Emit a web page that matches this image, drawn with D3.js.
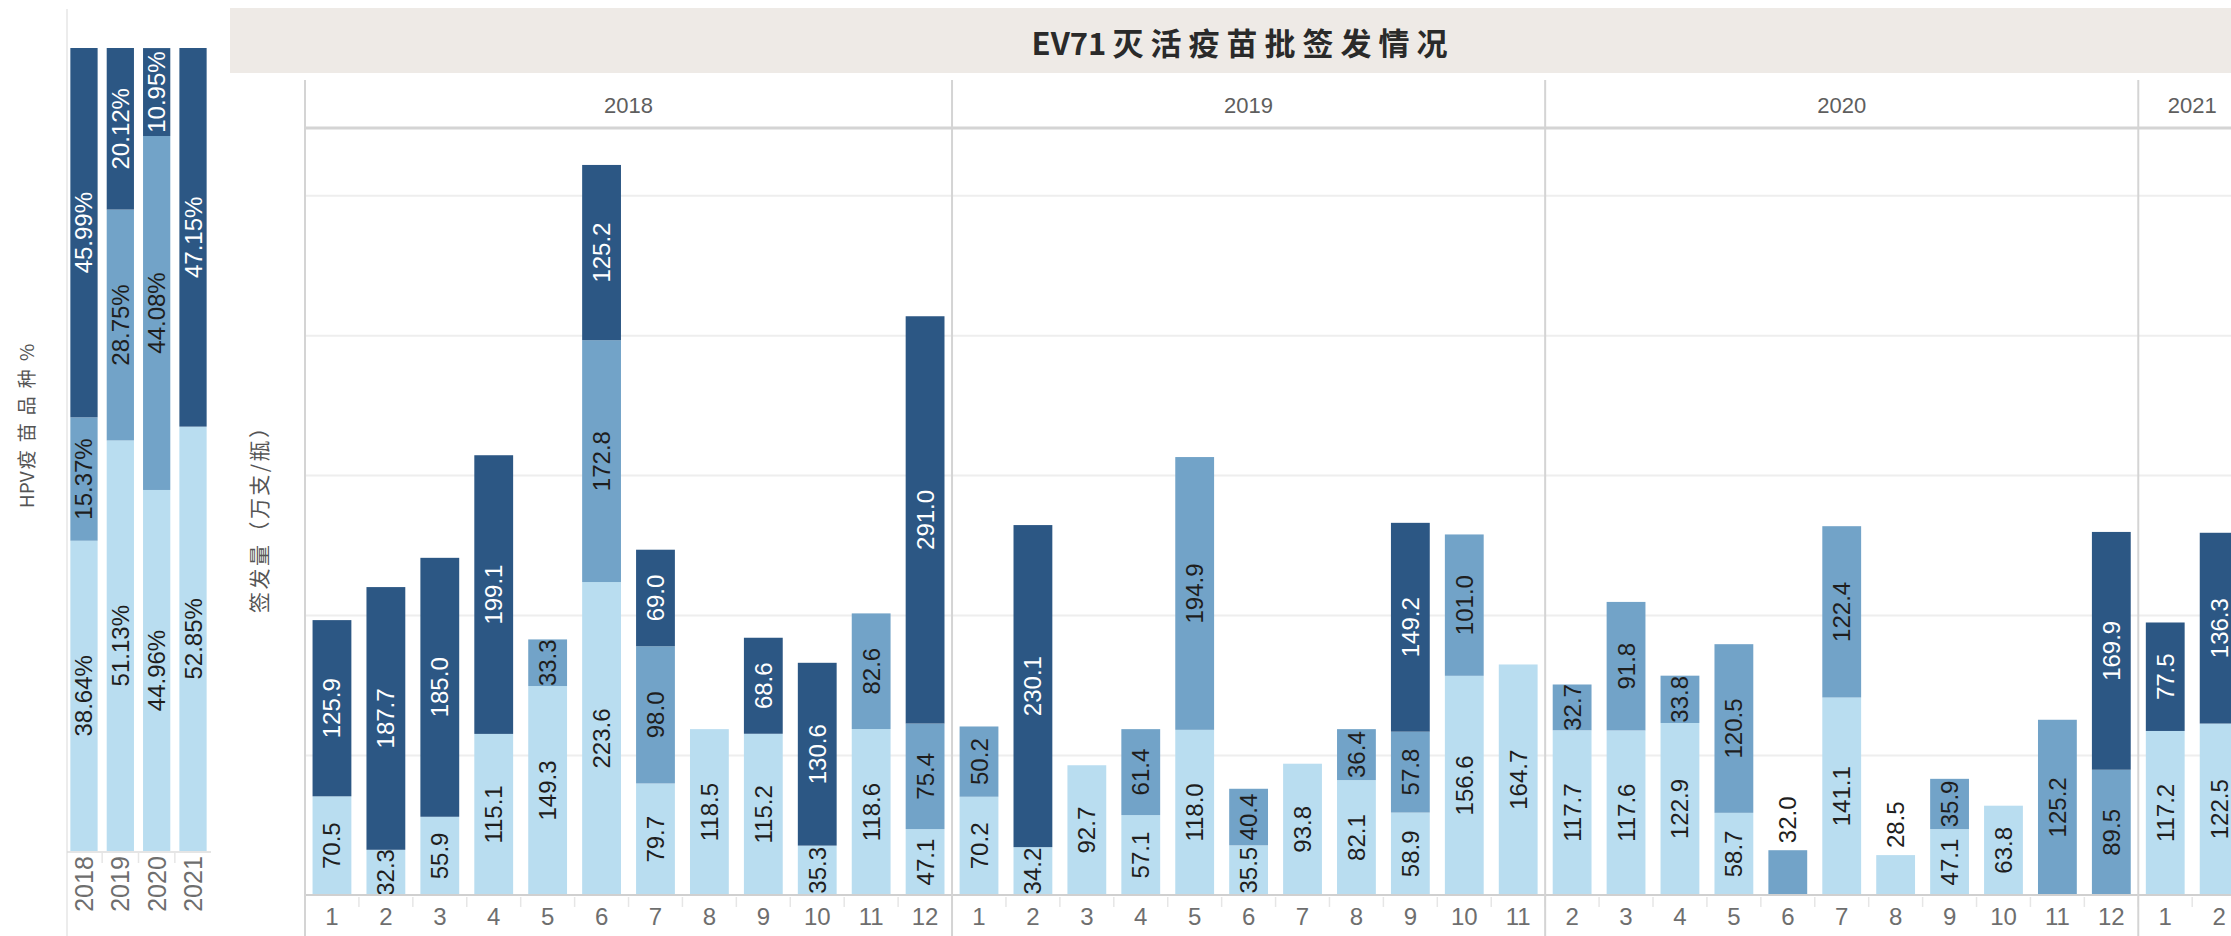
<!DOCTYPE html>
<html>
<head>
<meta charset="utf-8">
<script src="https://cdn.jsdelivr.net/npm/d3@7"></script>
<style>
  html, body { margin: 0; padding: 0; background: #fff; overflow: hidden; }
  svg { display: block; font-family: "Liberation Sans", Arial, sans-serif; }
</style>
</head>
<body>
<svg id="chart" width="2231" height="936"></svg>
<script>
var yearLabels = ["2018", "2019", "2020", "2021"];
var monthLabels = [
  [1, 2, 3, 4, 5, 6, 7, 8, 9, 10, 11, 12],
  [1, 2, 3, 4, 5, 6, 7, 8, 9, 10, 11],
  [2, 3, 4, 5, 6, 7, 8, 9, 10, 11, 12],
  [1, 2]
];
// one value per month, in the order of monthLabels (0 = no batch)
var lightVals = [70.5, 32.3, 55.9, 115.1, 149.3, 223.6, 79.7, 118.5, 115.2, 35.3, 118.6, 47.1,
                 70.2, 34.2, 92.7, 57.1, 118.0, 35.5, 93.8, 82.1, 58.9, 156.6, 164.7,
                 117.7, 117.6, 122.9, 58.7, 0, 141.1, 28.5, 47.1, 63.8, 0, 0,
                 117.2, 122.5];
var midVals = [0, 0, 0, 0, 33.3, 172.8, 98.0, 0, 0, 0, 82.6, 75.4,
               50.2, 0, 0, 61.4, 194.9, 40.4, 0, 36.4, 57.8, 101.0, 0,
               32.7, 91.8, 33.8, 120.5, 32.0, 122.4, 0, 35.9, 0, 125.2, 89.5,
               0, 0];
var darkVals = [125.9, 187.7, 185.0, 199.1, 0, 125.2, 69.0, 0, 68.6, 130.6, 0, 291.0,
                0, 230.1, 0, 0, 0, 0, 0, 0, 149.2, 0, 0,
                0, 0, 0, 0, 0, 0, 0, 0, 0, 0, 169.9,
                77.5, 136.3];
// yearly share (%)
var shareLight = [38.64, 51.13, 44.96, 52.85];
var shareMid = [15.37, 28.75, 44.08, 0];
var shareDark = [45.99, 20.12, 10.95, 47.15];
var gridValues = [100, 200, 300, 400, 500];

var seriesKeys = ["light", "mid", "dark"];
var colors = {light: "#b9ddf0", mid: "#72a3c8", dark: "#2c5784"};
var textDark = "#1e1e1e";
var cjkFont = "'Noto Sans CJK SC', sans-serif";

var svg = d3.select("#chart");

// ---- main panel data
var periods = [];
monthLabels.forEach(function(ms, yi) {
  ms.forEach(function(m) {
    periods.push({year: yearLabels[yi], month: m, key: yearLabels[yi] + "-" + m});
  });
});
periods.forEach(function(p, i) {
  p.light = lightVals[i];
  p.mid = midVals[i];
  p.dark = darkVals[i];
});

var plotLeft = 305, monthStep = 53.92;
var plotRight = plotLeft + monthStep * periods.length;
var x = d3.scaleBand()
  .domain(periods.map(function(d) { return d.key; }))
  .range([plotLeft, plotRight])
  .paddingInner(0.28)
  .paddingOuter(0.14);
var y = d3.scaleLinear().domain([0, 548]).range([895, 128]);
var pad = (x.step() - x.bandwidth()) / 2;

// title band
svg.append("rect")
  .attr("x", 230).attr("y", 8)
  .attr("width", 2040).attr("height", 65)
  .attr("fill", "#eeeae6");
var title = svg.append("text")
  .attr("x", 1243).attr("y", 41)
  .attr("text-anchor", "middle")
  .attr("dominant-baseline", "central")
  .attr("font-family", cjkFont)
  .attr("font-weight", "bold")
  .attr("font-size", 31)
  .attr("fill", "#2a2a2a");
title.append("tspan").text("EV71");
title.append("tspan").attr("dx", 6).attr("letter-spacing", 7).text("灭活疫苗批签发情况");

// gridlines
var grid = svg.append("g")
  .attr("transform", "translate(" + plotLeft + ",0)")
  .call(d3.axisLeft(y).tickValues(gridValues).tickSize(-(plotRight - plotLeft)).tickFormat(""));
grid.select(".domain").remove();
grid.selectAll("line").attr("stroke", "#eeeeee").attr("stroke-width", 2);

// year groups
var groups = yearLabels.map(function(yr, yi) {
  var ms = monthLabels[yi];
  var x0 = x(yr + "-" + ms[0]) - pad;
  var x1 = x(yr + "-" + ms[ms.length - 1]) + x.bandwidth() + pad;
  return {year: yr, x0: x0, x1: x1};
});

svg.selectAll(".yearHead")
  .data(groups)
  .enter().append("text")
  .attr("class", "yearHead")
  .attr("x", function(d) { return (d.x0 + d.x1) / 2; })
  .attr("y", 105)
  .attr("text-anchor", "middle")
  .attr("dominant-baseline", "central")
  .attr("font-size", 22)
  .attr("fill", "#5e5e5e")
  .text(function(d) { return d.year; });

// month ticks between categories
svg.selectAll(".mtick")
  .data(periods)
  .enter().append("line")
  .attr("x1", function(d) { return x(d.key) - pad; })
  .attr("x2", function(d) { return x(d.key) - pad; })
  .attr("y1", 897).attr("y2", 907)
  .attr("stroke", "#e6e6e6").attr("stroke-width", 1.5);

// stacked bars
var stacked = d3.stack().keys(seriesKeys)(periods);
var segs = [];
stacked.forEach(function(s) {
  s.forEach(function(v) {
    if (v[1] - v[0] > 0) {
      segs.push({series: s.key, key: v.data.key, y0: v[0], y1: v[1], value: v[1] - v[0], data: v.data});
    }
  });
});

svg.append("g").selectAll("rect")
  .data(segs)
  .enter().append("rect")
  .attr("x", function(d) { return x(d.key); })
  .attr("width", x.bandwidth())
  .attr("y", function(d) { return y(d.y1); })
  .attr("height", function(d) { return y(d.y0) - y(d.y1); })
  .attr("fill", function(d) { return colors[d.series]; });

function segCount(p) {
  return seriesKeys.filter(function(k) { return p[k] > 0; }).length;
}
// single short bars get their label above the bar
function labelAbove(d) {
  return segCount(d.data) === 1 && (y(d.y0) - y(d.y1)) < 52;
}

svg.append("g").selectAll("text")
  .data(segs)
  .enter().append("text")
  .attr("transform", function(d) {
    var cx = x(d.key) + x.bandwidth() / 2;
    var cy = labelAbove(d) ? y(d.y1) - 7 : y((d.y0 + d.y1) / 2);
    return "translate(" + cx + "," + cy + ") rotate(-90)";
  })
  .attr("text-anchor", function(d) { return labelAbove(d) ? "start" : "middle"; })
  .attr("dominant-baseline", "central")
  .attr("font-size", 24)
  .attr("fill", function(d) { return d.series === "dark" ? "#ffffff" : textDark; })
  .text(function(d) { return d3.format(".1f")(d.value); });

// month labels
var xAxis = svg.append("g")
  .attr("transform", "translate(0,895)")
  .call(d3.axisBottom(x).tickSize(0).tickPadding(13)
    .tickFormat(function(k) { return k.split("-")[1]; }));
xAxis.select(".domain").remove();
xAxis.selectAll("text")
  .attr("font-size", 24)
  .attr("font-family", "'Liberation Sans', Arial, sans-serif")
  .attr("fill", "#6e6e6e");

// frame lines
svg.append("line")
  .attr("x1", plotLeft).attr("x2", plotRight)
  .attr("y1", 128).attr("y2", 128)
  .attr("stroke", "#d4d4d4").attr("stroke-width", 3);
svg.append("line")
  .attr("x1", plotLeft).attr("x2", plotRight)
  .attr("y1", 895).attr("y2", 895)
  .attr("stroke", "#d0d0d0").attr("stroke-width", 2);
svg.selectAll(".vsep")
  .data([plotLeft].concat(groups.map(function(g) { return g.x1; })))
  .enter().append("line")
  .attr("x1", function(d) { return d; })
  .attr("x2", function(d) { return d; })
  .attr("y1", 80).attr("y2", 936)
  .attr("stroke", "#d4d4d4").attr("stroke-width", 2);

// y axis title
svg.append("text")
  .attr("transform", "translate(258,515) rotate(-90)")
  .attr("text-anchor", "middle")
  .attr("dominant-baseline", "central")
  .attr("font-family", cjkFont)
  .attr("font-size", 21)
  .attr("textLength", 196)
  .attr("lengthAdjust", "spacing")
  .attr("fill", "#555555")
  .text("签发量（万支/瓶）");

// ---- left panel: yearly share
var shares = yearLabels.map(function(yr, i) {
  return {year: yr, light: shareLight[i], mid: shareMid[i], dark: shareDark[i]};
});
var xs = d3.scaleBand().domain(yearLabels).range([66, 211]).paddingInner(0.25).paddingOuter(0.12);
var ys = d3.scaleLinear().domain([0, 100]).range([851, 48]);

svg.append("line")
  .attr("x1", 67).attr("x2", 67).attr("y1", 9).attr("y2", 936)
  .attr("stroke", "#e6e6e6").attr("stroke-width", 1.5);
svg.append("line")
  .attr("x1", 67).attr("x2", 211).attr("y1", 852).attr("y2", 852)
  .attr("stroke", "#dcdcdc").attr("stroke-width", 1.5);

var sStack = d3.stack().keys(seriesKeys)(shares);
var sSegs = [];
sStack.forEach(function(s) {
  s.forEach(function(v) {
    if (v[1] - v[0] > 0) {
      sSegs.push({series: s.key, year: v.data.year, y0: v[0], y1: v[1], value: v[1] - v[0]});
    }
  });
});

svg.append("g").selectAll("rect")
  .data(sSegs)
  .enter().append("rect")
  .attr("x", function(d) { return xs(d.year); })
  .attr("width", xs.bandwidth())
  .attr("y", function(d) { return ys(d.y1); })
  .attr("height", function(d) { return ys(d.y0) - ys(d.y1); })
  .attr("fill", function(d) { return colors[d.series]; });

svg.append("g").selectAll("text")
  .data(sSegs)
  .enter().append("text")
  .attr("transform", function(d) {
    return "translate(" + (xs(d.year) + xs.bandwidth() / 2) + "," + ys((d.y0 + d.y1) / 2) + ") rotate(-90)";
  })
  .attr("text-anchor", "middle")
  .attr("dominant-baseline", "central")
  .attr("font-size", 24)
  .attr("fill", function(d) { return d.series === "dark" ? "#ffffff" : textDark; })
  .text(function(d) { return d3.format(".2f")(d.value) + "%"; });

svg.selectAll(".ytick")
  .data(yearLabels.slice(1))
  .enter().append("line")
  .attr("x1", function(d) { return xs(d) - xs.step() * xs.paddingInner() / 2; })
  .attr("x2", function(d) { return xs(d) - xs.step() * xs.paddingInner() / 2; })
  .attr("y1", 853).attr("y2", 863)
  .attr("stroke", "#e6e6e6").attr("stroke-width", 1.5);

svg.selectAll(".syear")
  .data(yearLabels)
  .enter().append("text")
  .attr("transform", function(d) {
    return "translate(" + (xs(d) + xs.bandwidth() / 2) + ",884) rotate(-90)";
  })
  .attr("text-anchor", "middle")
  .attr("dominant-baseline", "central")
  .attr("font-size", 25)
  .attr("fill", "#6e6e6e")
  .text(function(d) { return d; });

var hpvTitle = svg.append("text")
  .attr("transform", "translate(25,426) rotate(-90)")
  .attr("text-anchor", "middle")
  .attr("dominant-baseline", "central")
  .attr("font-family", cjkFont)
  .attr("font-size", 19)
  .attr("fill", "#555555");
hpvTitle.append("tspan").text("HPV");
hpvTitle.append("tspan").attr("dx", 2).attr("letter-spacing", 8).text("疫苗品种");
hpvTitle.append("tspan").text("%");
</script>
</body>
</html>
